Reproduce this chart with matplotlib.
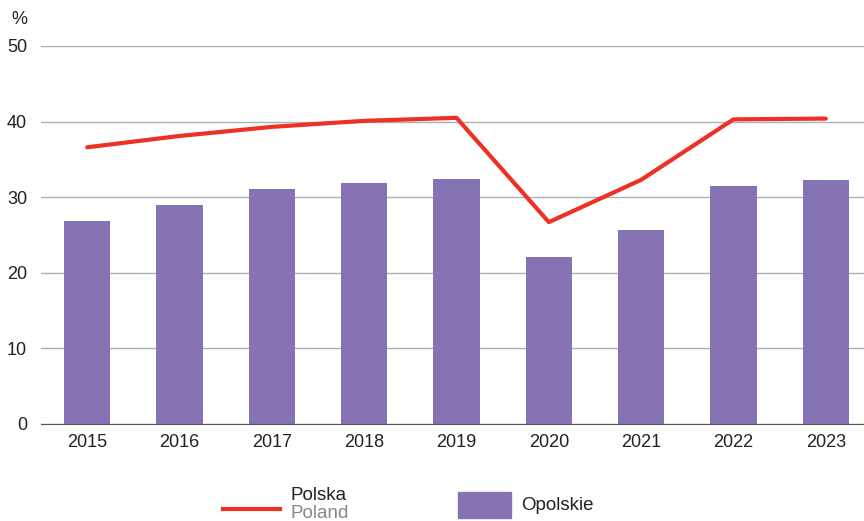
import matplotlib
matplotlib.use("Agg")
import matplotlib.pyplot as plt
from matplotlib.lines import Line2D
from matplotlib.patches import Rectangle

plt.rcParams['font.family'] = ['Liberation Sans', 'DejaVu Sans']

years = ['2015', '2016', '2017', '2018', '2019', '2020', '2021', '2022', '2023']
opolskie = [26.9, 29.0, 31.1, 31.9, 32.4, 22.1, 25.7, 31.5, 32.3]
polska = [36.6, 38.1, 39.3, 40.1, 40.5, 26.7, 32.3, 40.3, 40.4]
yticks = [0, 10, 20, 30, 40, 50]

bar_color = '#8673b3'
line_color = '#ee3124'

fig = plt.figure(figsize=(8.64, 5.21), dpi=100)
ax = fig.add_axes([41/864, 1-424/521, (872-41)/864, (424-46)/521])

x = list(range(len(years)))
ax.bar(x, opolskie, width=0.5, color=bar_color, zorder=2)
ax.plot(x, polska, color=line_color, lw=3, zorder=3, solid_capstyle='round')

ax.set_xlim(-0.5, len(years) - 0.5)
ax.set_ylim(0, 50)
ax.set_yticks(yticks)
ax.set_xticks(x)
ax.set_xticklabels(years)
ax.grid(axis='y', color='#b0b0b0', lw=1, zorder=1)
for s in ['left', 'right', 'top']:
    ax.spines[s].set_visible(False)
ax.spines['bottom'].set_color('#555555')
ax.spines['bottom'].set_zorder(4)
ax.tick_params(axis='both', length=0, labelsize=13, colors='#222222')
ax.tick_params(axis='x', pad=7)
ax.tick_params(axis='y', pad=10)

fig.text(11/864, 1-20/521, '%', fontsize=13, color='#222222', va='center', ha='left')

# legend
fig.add_artist(Line2D([223/864, 280/864], [1-509/521, 1-509/521], color=line_color, lw=3,
                      transform=fig.transFigure))
fig.text(291/864, 1-496/521, 'Polska', fontsize=13.5, color='#222222', va='center', ha='left')
fig.text(291/864, 1-514/521, 'Poland', fontsize=13.5, color='#888888', va='center', ha='left')
fig.add_artist(Rectangle((458/864, 1-518/521), 53/864, 26/521, color=bar_color,
                         transform=fig.transFigure))
fig.text(521/864, 1-506/521, 'Opolskie', fontsize=13.5, color='#222222', va='center', ha='left')

fig.savefig('out.png', dpi=100)
